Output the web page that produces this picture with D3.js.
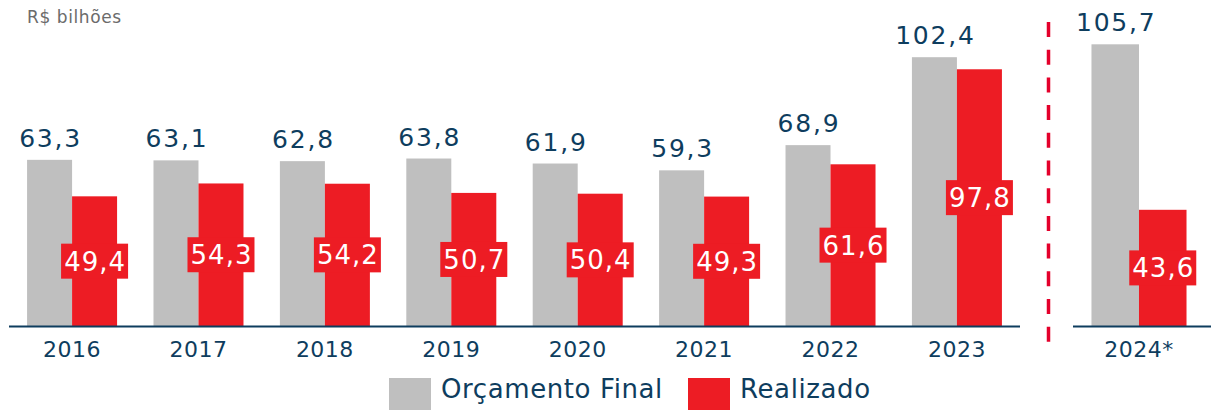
<!DOCTYPE html>
<html>
<head>
<meta charset="utf-8">
<script src="https://cdn.jsdelivr.net/npm/d3@7"></script>
<style>
  body { margin: 0; background: #fff; }
  svg { display: block; font-family: "DejaVu Sans", sans-serif; }
</style>
</head>
<body>
<svg id="chart" width="1211" height="410"></svg>
<script>
"use strict";

// values (R$ bilhões)
var years = ["2016", "2017", "2018", "2019", "2020", "2021", "2022", "2023"];
var orcamento = [63.3, 63.1, 62.8, 63.8, 61.9, 59.3, 68.9, 102.4];
var realizado = [49.4, 54.3, 54.2, 50.7, 50.4, 49.3, 61.6, 97.8];

var projYears = ["2024*"];
var projOrcamento = [105.7];
var projRealizado = [43.6];

var seriesNames = ["Orçamento Final", "Realizado"];

var colors = { orc: "#bfbfbf", real: "#ed1c24", navy: "#0e3d5e", dash: "#e4002b" };

var br = d3.formatLocale({decimal: ",", thousands: ".", grouping: [3], currency: ["R$", ""]});
var fmt = br.format(".1f");

var svg = d3.select("#chart");
var baseY = 326;

// draws one panel: band per year, grey + red bar pair
function panel(cats, orc, real, x, y) {
    var inner = d3.scaleBand().domain(["orc", "real"]).range([0, x.bandwidth()]);
    var rows = cats.map(function(c, i) { return {cat: c, orc: orc[i], real: real[i]}; });

    var g = svg.append("g");

    var grp = g.selectAll("g.year").data(rows).enter().append("g")
        .attr("class", "year")
        .attr("transform", function(d) { return "translate(" + x(d.cat) + ",0)"; });

    grp.append("rect")
        .attr("x", inner("orc"))
        .attr("width", inner.bandwidth())
        .attr("y", function(d) { return y(d.orc); })
        .attr("height", function(d) { return y(0) - y(d.orc); })
        .attr("fill", colors.orc);

    grp.append("rect")
        .attr("x", inner("real"))
        .attr("width", inner.bandwidth())
        .attr("y", function(d) { return y(d.real); })
        .attr("height", function(d) { return y(0) - y(d.real); })
        .attr("fill", colors.real);

    // grey value above bar
    grp.append("text")
        .attr("x", inner("orc") + inner.bandwidth() / 2 + 1)
        .attr("y", function(d) { return y(d.orc) - 13; })
        .attr("text-anchor", "middle")
        .attr("fill", colors.navy)
        .style("font-size", "25px")
        .style("letter-spacing", "1.8px")
        .text(function(d) { return fmt(d.orc); });

    // red value in a red box, middle of red bar
    var lab = grp.append("g")
        .attr("transform", function(d) {
            var cx = inner("real") + inner.bandwidth() / 2;
            var cy = (y(d.real) + y(0)) / 2;
            return "translate(" + cx + "," + cy + ")";
        });
    lab.append("rect")
        .attr("x", -33.5).attr("y", -17.5)
        .attr("width", 67).attr("height", 35)
        .attr("fill", colors.real);
    lab.append("text")
        .attr("x", 0.5)
        .attr("y", 9.5)
        .attr("text-anchor", "middle")
        .attr("fill", "#fff")
        .style("font-size", "26px")
        .style("letter-spacing", "1px")
        .text(function(d) { return fmt(d.real); });

    // baseline
    g.append("line")
        .attr("x1", x.range()[0]).attr("x2", x.range()[1])
        .attr("y1", y(0) + 0.5).attr("y2", y(0) + 0.5)
        .attr("stroke", colors.navy)
        .attr("stroke-width", 2);

    // year labels
    g.selectAll("text.cat").data(cats).enter().append("text")
        .attr("class", "cat")
        .attr("x", function(d) { return x(d) + x.bandwidth() / 2; })
        .attr("y", 357)
        .attr("text-anchor", "middle")
        .attr("fill", colors.navy)
        .style("font-size", "22px")
        .style("letter-spacing", "0.5px")
        .text(function(d) { return d; });
}

var xLeft = d3.scaleBand().domain(years).range([9, 1020])
    .paddingInner(0.288).paddingOuter(0.143);
var yLeft = d3.scaleLinear().domain([0, 100]).range([baseY, baseY - 262.5]);
panel(years, orcamento, realizado, xLeft, yLeft);

var xRight = d3.scaleBand().domain(projYears).range([1073, 1211])
    .paddingInner(0).paddingOuter(0.226).align(0.43);
var yRight = d3.scaleLinear().domain([0, 100]).range([baseY, baseY - 266.5]);
panel(projYears, projOrcamento, projRealizado, xRight, yRight);

// separator
svg.append("line")
    .attr("x1", 1048.5).attr("x2", 1048.5)
    .attr("y1", 22).attr("y2", 345)
    .attr("stroke", colors.dash)
    .attr("stroke-width", 3.5)
    .attr("stroke-dasharray", "15,12.7");

// unit title
svg.append("text")
    .attr("x", 27).attr("y", 23)
    .attr("fill", "#6b6b6b")
    .style("font-size", "17px")
    .style("letter-spacing", "0.6px")
    .text("R$ bilhões");

// legend
var legendX = [389, 688];
var legendFill = [colors.orc, colors.real];
var leg = svg.selectAll("g.legend").data(seriesNames).enter().append("g")
    .attr("class", "legend")
    .attr("transform", function(d, i) { return "translate(" + legendX[i] + ",378)"; });
leg.append("rect")
    .attr("width", 42).attr("height", 32)
    .attr("fill", function(d, i) { return legendFill[i]; });
leg.append("text")
    .attr("x", 52).attr("y", 20)
    .attr("fill", colors.navy)
    .style("font-size", "26px")
    .style("letter-spacing", "0.6px")
    .text(function(d) { return d; });
</script>
</body>
</html>
